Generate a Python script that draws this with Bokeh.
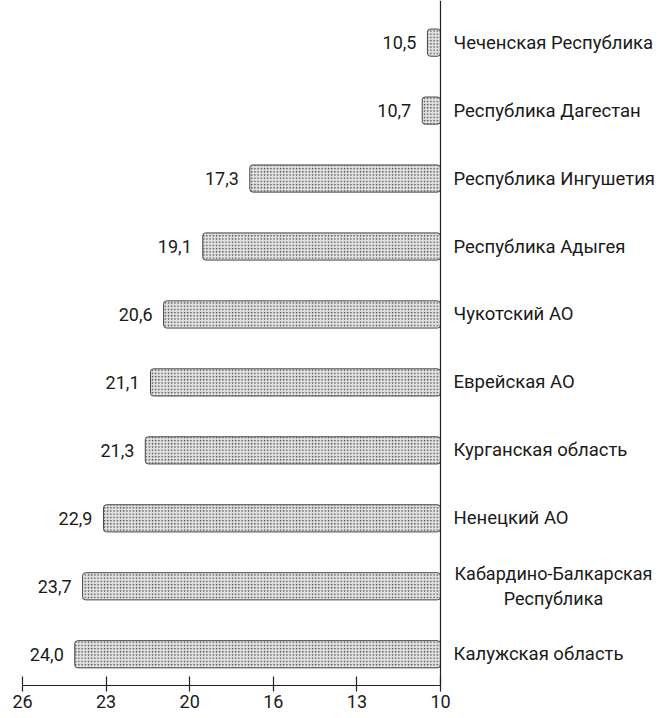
from bokeh.plotting import figure
from bokeh.models import ColumnDataSource, Range1d, FixedTicker, Span, CustomJSTickFormatter
from bokeh.core.properties import value
from bokeh.embed import file_html
from bokeh.resources import INLINE

regions = ["Чеченская Республика", "Республика Дагестан", "Республика Ингушетия",
           "Республика Адыгея", "Чукотский АО", "Еврейская АО", "Курганская область",
           "Ненецкий АО", "Кабардино-Балкарская\nРеспублика", "Калужская область"]
values = [10.5, 10.7, 17.3, 19.1, 20.6, 21.1, 21.3, 22.9, 23.7, 24.0]
value_labels = ["10,5", "10,7", "17,3", "19,1", "20,6", "21,1", "21,3", "22,9", "23,7", "24,0"]
tick_values = [10, 13.2, 16.4, 19.6, 22.8, 26]
tick_labels = ["10", "13", "16", "20", "23", "26"]
base = 10

n = len(regions)
ypos = [n - 1 - i for i in range(n)]

single = [i for i in range(n) if "\n" not in regions[i]]
multi = [i for i in range(n) if "\n" in regions[i]]

src = ColumnDataSource(dict(y=ypos, v=values, base=[base] * n, lab=value_labels))
src_single = ColumnDataSource(dict(y=[ypos[i] for i in single], name=[regions[i] for i in single],
                                   x=[base] * len(single)))
src_multi = ColumnDataSource(dict(y=[ypos[i] for i in multi], name=[regions[i] for i in multi],
                                  x=[base] * len(multi)))

FONT = "Roboto"
TXT = "#1a1a1a"

p = figure(width=655, height=710, output_backend="svg", toolbar_location=None,
           x_range=Range1d(26, 1.77), y_range=Range1d(-0.46, 9.62),
           min_border_left=22, min_border_right=0, min_border_top=0, min_border_bottom=0)
p.outline_line_color = None
p.xgrid.visible = False
p.ygrid.visible = False
p.yaxis.visible = False
p.background_fill_color = "white"

p.hbar(y="y", left="base", right="v", height=0.4, source=src,
       fill_color="#e2e2e2", line_color="#4a4a4a", line_width=1,
       hatch_pattern="dot", hatch_color="#4a4a4a", hatch_scale=3.2, hatch_weight=1.3,
       border_radius=3)

p.add_layout(Span(location=base, dimension="height", line_color="#222222", line_width=1.2))

p.text(x="v", y="y", text="lab", source=src, x_offset=-11, text_align="right",
       text_baseline="middle", text_font=value(FONT), text_font_size="18px",
       text_color=TXT)
p.text(x="x", y="y", text="name", source=src_single, x_offset=13, text_align="left",
       text_baseline="middle", text_font=value(FONT), text_font_size="18.5px",
       text_color=TXT)
p.text(x="x", y="y", text="name", source=src_multi, x_offset=113, text_align="center",
       text_baseline="middle", text_font=value(FONT), text_font_size="18px",
       text_color=TXT, text_line_height=1.17)

ax = p.xaxis[0]
ax.ticker = FixedTicker(ticks=tick_values, minor_ticks=[])
ax.bounds = (base, 26)
ax.formatter = CustomJSTickFormatter(args=dict(t=tick_values, l=tick_labels),
                                     code="const i = t.indexOf(tick); return i >= 0 ? l[i] : '';")
ax.major_tick_in = 9
ax.major_tick_out = 6
ax.minor_tick_line_color = None
ax.axis_line_color = "#222222"
ax.major_tick_line_color = "#222222"
ax.axis_line_width = 1.2
ax.major_tick_line_width = 1.2
ax.major_label_text_font = FONT
ax.major_label_text_font_size = "18px"
ax.major_label_text_color = TXT
ax.major_label_standoff = 3

open("out.html", "w").write(file_html(p, INLINE))
